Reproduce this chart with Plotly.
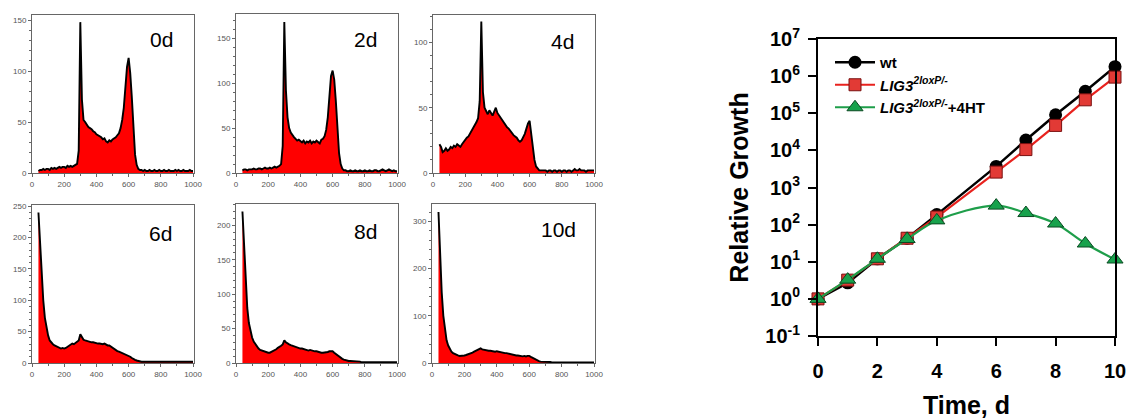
import plotly.graph_objects as go

# ---------------- data ----------------
channels = list(range(40, 1001, 10))

hist_0d = [2, 3, 3, 4, 3, 4,
           4, 3, 5, 4, 5, 4, 5, 6, 5, 6,
           6, 5, 7, 6, 7, 6, 7, 8, 9, 22,
           148, 72, 52, 50, 47, 45, 44, 43, 41, 40,
           38, 37, 36, 35, 33, 34, 31, 30, 32, 31,
           33, 34, 35, 37, 39, 44, 52, 64, 82, 104,
           113, 98, 74, 44, 18, 8, 4, 3, 3, 2,
           3, 2, 2, 3, 2, 2, 3, 2, 2, 3,
           2, 2, 3, 2, 2, 3, 2, 2, 2, 3,
           2, 3, 2, 2, 3, 2, 2, 2, 3, 2,
           2]
hist_2d = [3, 4, 4, 3, 4, 4,
           4, 5, 4, 4, 5, 5, 4, 5, 6, 5,
           5, 6, 5, 6, 7, 6, 7, 8, 10, 30,
           168, 92, 62, 50, 45, 42, 40, 38, 36, 37,
           35, 34, 36, 33, 35, 34, 36, 33, 35, 34,
           36, 34, 33, 37, 38, 41, 48, 62, 85, 108,
           114, 104, 80, 48, 22, 10, 5, 3, 3, 2,
           2, 3, 2, 2, 3, 2, 2, 3, 2, 2,
           3, 2, 2, 3, 2, 2, 3, 3, 2, 2,
           3, 4, 3, 2, 3, 4, 3, 2, 3, 2,
           2]
hist_4d = [22, 20, 16, 17, 19, 17,
           18, 20, 19, 21, 20, 22, 21, 20, 22, 24,
           25, 27, 28, 30, 32, 35, 37, 39, 42, 55,
           116, 62, 50, 47, 45, 48, 46, 44, 47, 50,
           46, 44, 42, 41, 39, 37, 35, 34, 32, 30,
           29, 28, 27, 25, 24, 25, 27, 30, 34, 38,
           40, 30, 18, 10, 5, 3, 2, 2, 2, 2,
           2, 1, 2, 2, 1, 2, 2, 1, 2, 2,
           1, 2, 2, 1, 2, 2, 1, 2, 3, 2,
           2, 3, 2, 2, 2, 1, 2, 2, 2, 2,
           2]
hist_6d = [240, 190, 140, 100, 72, 55,
           44, 36, 32, 30, 28, 27, 26, 24, 23, 24,
           23, 24, 26, 28, 29, 31, 30, 32, 33, 36,
           46, 40, 37, 36, 35, 34, 34, 33, 33, 32,
           32, 31, 31, 30, 30, 31, 29, 28, 28, 26,
           24, 22, 20, 19, 18, 17, 16, 15, 14, 13,
           12, 10, 8, 6, 5, 4, 3, 3, 2, 2,
           2, 2, 2, 2, 2, 1, 2, 2, 2, 2,
           2, 1, 2, 2, 2, 2, 2, 1, 2, 2,
           2, 2, 2, 2, 1, 2, 2, 2, 2, 2,
           2]
hist_8d = [220, 165, 115, 80, 58, 45,
           37, 31, 27, 24, 21, 19, 18, 17, 16, 16,
           15, 15, 16, 17, 18, 20, 22, 23, 25, 27,
           33, 30, 28, 27, 26, 25, 24, 23, 22, 22,
           21, 21, 20, 19, 19, 18, 19, 18, 17, 17,
           17, 16, 16, 15, 15, 15, 16, 16, 17, 17,
           17, 15, 13, 11, 9, 7, 6, 5, 4, 4,
           3, 3, 3, 2, 2, 2, 2, 2, 1, 1,
           1, 1, 1, 1, 1, 1, 1, 1, 1, 1,
           1, 1, 1, 1, 1, 1, 1, 1, 1, 1,
           1]
hist_10d = [320, 230, 150, 100, 68, 48,
            37, 29, 24, 21, 19, 17, 16, 15, 15, 16,
            16, 17, 18, 19, 20, 22, 24, 26, 27, 29,
            31, 29, 28, 27, 27, 26, 26, 25, 25, 24,
            25, 24, 24, 23, 22, 21, 21, 20, 19, 18,
            17, 17, 16, 16, 15, 15, 14, 15, 14, 15,
            15, 13, 11, 9, 7, 5, 4, 3, 3, 2,
            2, 2, 2, 2, 1, 1, 1, 1, 1, 1,
            1, 1, 1, 1, 1, 1, 1, 1, 1, 1,
            1, 1, 1, 1, 1, 1, 1, 1, 1, 1,
            1]

panel_labels = ["0d", "2d", "4d", "6d", "8d", "10d"]
panel_ymax = [155, 177, 121, 252, 231, 337]
panel_ydtick = [50, 50, 50, 50, 50, 100]
panel_minor = [10, 10, 10, 10, 10, 20]
histograms = [hist_0d, hist_2d, hist_4d, hist_6d, hist_8d, hist_10d]

days = [0, 1, 2, 3, 4, 6, 7, 8, 9, 10]
wt = [1, 2.7, 12, 43, 186, 3700, 19000, 91000, 390000, 1800000]
lig3 = [1, 3.2, 12, 43, 160, 2600, 10500, 47000, 230000, 940000]
lig3_4ht = [1, 3.3, 12, 41, 130, 325, 205, 107, 31, 11.5]

decade_vals = [0.1, 1, 10, 100, 1000, 1e4, 1e5, 1e6, 1e7]
decade_text = ["10<sup>-1</sup>", "10<sup>0</sup>", "10<sup>1</sup>", "10<sup>2</sup>",
               "10<sup>3</sup>", "10<sup>4</sup>", "10<sup>5</sup>", "10<sup>6</sup>",
               "10<sup>7</sup>"]

# ---------------- layout geometry (pixels) ----------------
W, H = 1129, 419
boxes = [(32, 194, 15, 173), (236, 398, 14, 173), (433, 595, 15, 173),
         (32, 194, 205, 363), (236, 398, 204, 363), (432, 595, 204, 363)]
label_pos = [(161, 40), (365, 40), (562, 41), (160, 233), (365, 232), (558, 229)]


def px_x(x):
    return x / W


def px_y(y):
    return 1 - y / H


fig = go.Figure()
layout = dict(width=W, height=H, margin=dict(l=0, r=0, t=0, b=0, autoexpand=False),
              paper_bgcolor="white", plot_bgcolor="white", showlegend=True)

FONT = "Liberation Sans, Arial, sans-serif"
annotations = []

for i, (vals, (x0, x1, y0, y1)) in enumerate(zip(histograms, boxes)):
    n = i + 1
    xa = "x" if n == 1 else f"x{n}"
    ya = "y" if n == 1 else f"y{n}"
    fig.add_trace(go.Scatter(x=channels, y=vals, mode="lines", fill="tozeroy",
                             fillcolor="#FF0000", line=dict(color="black", width=1.9),
                             xaxis=xa, yaxis=ya, showlegend=False, hoverinfo="skip"))
    axstyle = dict(showline=True, linecolor="#666", linewidth=1, mirror=True,
                   ticks="outside", ticklen=3, tickcolor="#666", showgrid=False,
                   zeroline=False, automargin=False,
                   tickfont=dict(size=8, color="#555", family=FONT))
    layout["xaxis" if n == 1 else f"xaxis{n}"] = dict(
        domain=[px_x(x0), px_x(x1)], range=[0, 1006], anchor=ya,
        tickvals=[0, 200, 400, 600, 800, 1000],
        minor=dict(dtick=100, ticklen=2, tickcolor="#666", ticks="outside"),
        **axstyle)
    layout["yaxis" if n == 1 else f"yaxis{n}"] = dict(
        domain=[px_y(y1), px_y(y0)], range=[0, panel_ymax[i]], anchor=xa,
        dtick=panel_ydtick[i], tick0=0,
        minor=dict(dtick=panel_minor[i], ticklen=2, tickcolor="#666", ticks="outside"),
        **axstyle)
    lx, ly = label_pos[i]
    annotations.append(dict(text=panel_labels[i], x=px_x(lx), y=px_y(ly),
                            xref="paper", yref="paper", showarrow=False,
                            xanchor="center", yanchor="middle",
                            font=dict(size=21, color="black", family=FONT)))

# ---------------- growth curve ----------------
fig.add_trace(go.Scatter(x=days, y=wt, mode="lines+markers", name="wt",
                         line=dict(color="black", width=2.5),
                         marker=dict(symbol="circle", size=13, color="black"),
                         xaxis="x7", yaxis="y7", cliponaxis=False))
fig.add_trace(go.Scatter(x=days, y=lig3, mode="lines+markers",
                         name="<i>LIG3<sup>2loxP/-</sup></i>",
                         line=dict(color="#E8221E", width=2.2),
                         marker=dict(symbol="square", size=12, color="#E23A35",
                                     line=dict(color="#7A1010", width=1)),
                         xaxis="x7", yaxis="y7", cliponaxis=False))
fig.add_trace(go.Scatter(x=days, y=lig3_4ht, mode="lines+markers",
                         name="<i>LIG3<sup>2loxP/-</sup></i>+4HT",
                         line=dict(color="#1E9E4A", width=2.2, shape="spline"),
                         marker=dict(symbol="triangle-up", size=14, color="#17A24C",
                                     line=dict(color="#0B4A22", width=1)),
                         xaxis="x7", yaxis="y7", cliponaxis=False))

bigstyle = dict(showline=True, linecolor="black", linewidth=2, mirror=True,
                ticks="outside", ticklen=8, tickwidth=2, tickcolor="black",
                showgrid=False, zeroline=False, automargin=False)
layout["xaxis7"] = dict(domain=[px_x(818), px_x(1115)], range=[0, 10], anchor="y7",
                        tickvals=[0, 2, 4, 6, 8, 10], ticklabelstandoff=8,
                        tickfont=dict(size=20, color="black", family=FONT, weight="bold"),
                        title=dict(text="Time, d", standoff=16,
                                   font=dict(size=25, color="black", family=FONT, weight="bold")),
                        **bigstyle)
layout["yaxis7"] = dict(domain=[px_y(336), px_y(39)], type="log", range=[-1, 7], anchor="x7",
                        tickvals=decade_vals, ticktext=decade_text, ticklabelstandoff=4,
                        tickfont=dict(size=20, color="black", family=FONT, weight="bold"),
                        title=dict(text="Relative Growth", standoff=10,
                                   font=dict(size=25, color="black", family=FONT, weight="bold")),
                        **bigstyle)
layout["legend"] = dict(x=px_x(830), y=px_y(46), xanchor="left", yanchor="top",
                        bgcolor="rgba(0,0,0,0)", itemwidth=40,
                        font=dict(size=15, color="black", family=FONT, weight="bold"),
                        tracegroupgap=0)
layout["annotations"] = annotations

fig.update_layout(**layout)
fig.write_html("out.html", config={"displayModeBar": False},
               post_script="document.body.style.margin='0px';document.body.style.overflow='hidden';")
